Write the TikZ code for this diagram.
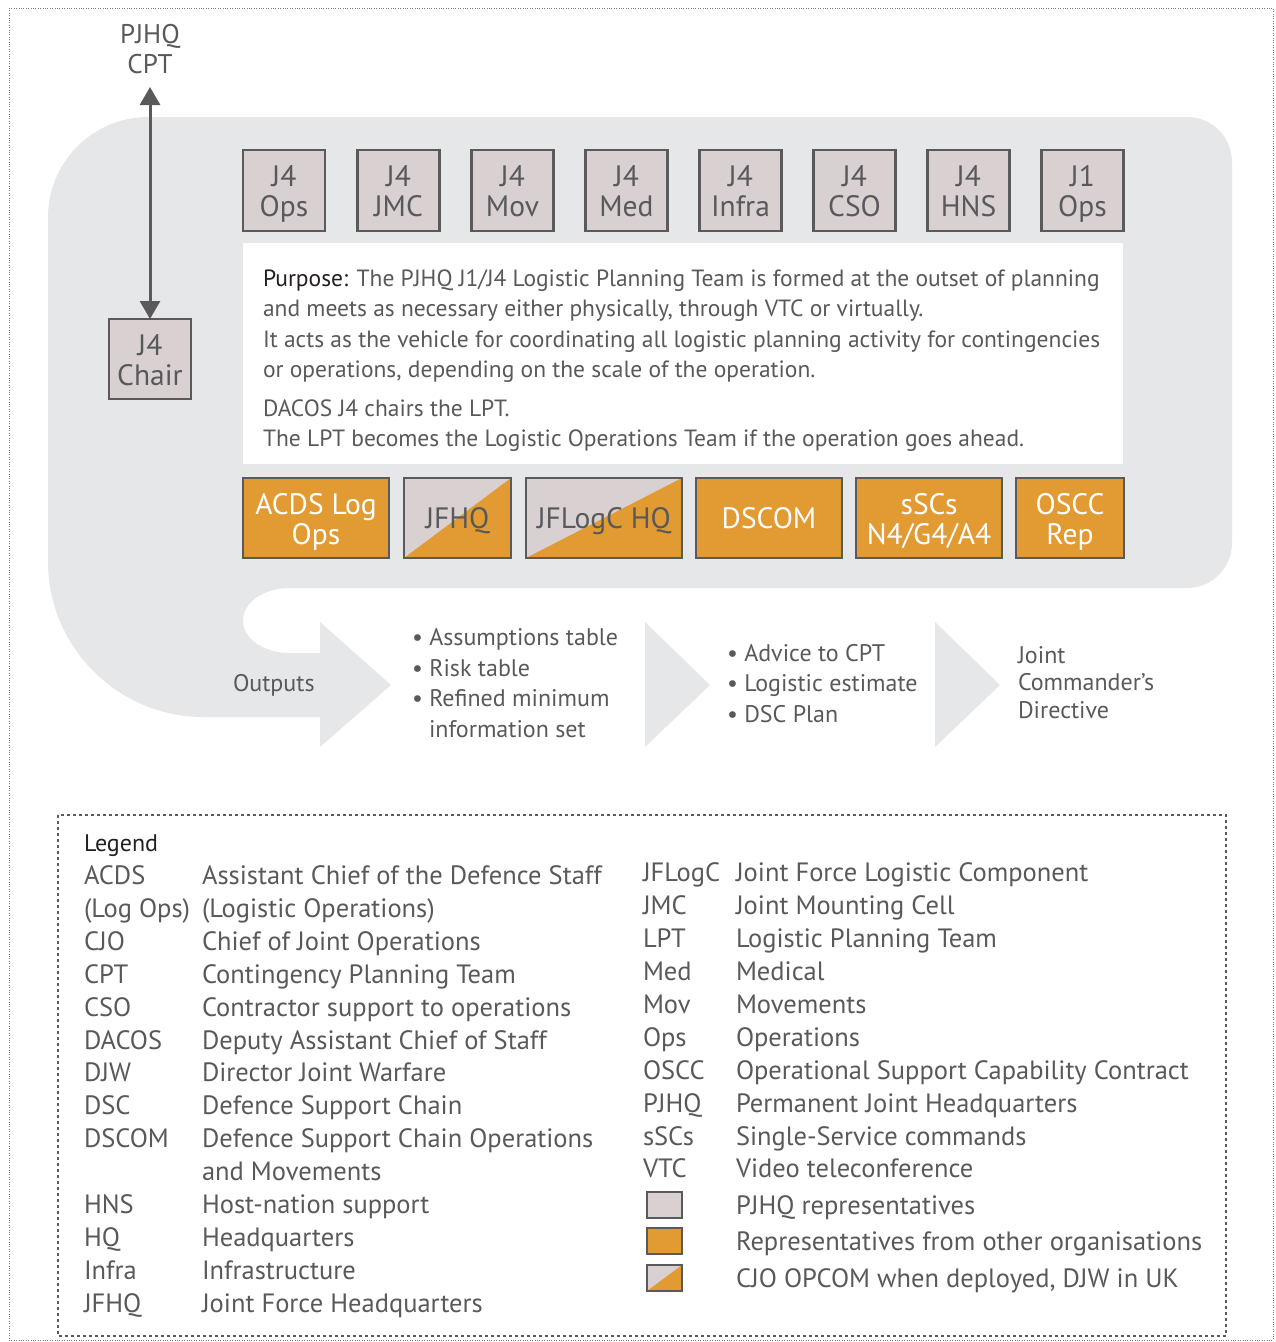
\documentclass[tikz,border=0pt]{standalone}
\usepackage{fontspec}
\setmainfont{PT Sans}
\usetikzlibrary{arrows.meta}
\definecolor{txt}{HTML}{58595B}
\definecolor{bg}{HTML}{E6E7E8}
\definecolor{pk}{HTML}{D9D0D1}
\definecolor{org}{HTML}{E29A32}
\definecolor{edge}{HTML}{5A5A5C}
\definecolor{blk}{HTML}{231F20}
\begin{document}
\begin{tikzpicture}[x=1pt,y=-1pt,
 every node/.style={inner sep=0pt, outer sep=0pt},
 pbox/.style={draw=edge, line width=2.5pt, fill=pk, minimum width=82pt, minimum height=81pt, align=center, text=txt, font=\fontsize{29.5}{30}\selectfont, text height=52pt, text depth=0pt},
 one/.style={text height=21pt, text depth=0pt},
 obox/.style={pbox, fill=org, text=white},
 sbox/.style={pbox, path picture={\fill[org] (path picture bounding box.south west) -- (path picture bounding box.south east) -- (path picture bounding box.north east) -- cycle;}},
 lbl/.style={anchor=base west, text=txt, font=\fontsize{24}{27}\selectfont},
 ptx/.style={anchor=base west, text=txt, font=\fontsize{23.5}{27}\selectfont},
 leg/.style={anchor=base west, text=txt, font=\fontsize{26.5}{28}\selectfont},
 swatch/.style={draw=edge, line width=2pt, fill=pk, minimum width=35pt, minimum height=26pt},
 dbl/.style={{Triangle[width=20pt,length=18pt]}-{Triangle[width=20pt,length=18pt]}, line width=3pt, draw=edge},
]
\useasboundingbox (0,0) rectangle (1276,1342);
% outer dotted frame
\draw[txt!80, line width=0.8pt, dash pattern=on 0.8pt off 1.6pt] (9,8) rectangle (1273,1340);

% grey background shape with outputs arrow
\fill[bg] (48,217) .. controls (48,162) and (93,117) .. (148,117)
  -- (1187,117) .. controls (1212,117) and (1232,137) .. (1232,162)
  -- (1232,543) .. controls (1232,568) and (1212,588) .. (1187,588)
  -- (290,588) .. controls (264,588) and (243,602) .. (243,620.5)
  .. controls (243,639) and (264,653) .. (290,653)
  -- (320,653) -- (320,622) -- (391,685) -- (320,747) -- (320,717)
  -- (203,717) .. controls (118,717) and (48,647) .. (48,562) -- cycle;

% chevrons
\fill[bg] (645,622) -- (710,685) -- (645,747) -- cycle;
\fill[bg] (935,622) -- (1000,685) -- (935,747) -- cycle;

% top text and arrow
\node[text=txt, font=\fontsize{27}{30}\selectfont, align=center, anchor=base] (cpt) at (150,73) {PJHQ\\CPT};
\coordinate (cpttop) at (150,87);
\node[pbox, minimum height=80pt] (chair) at (150,359) {J4\\Chair};
\draw[dbl] (chair.north) -- (cpttop);

% J boxes
\node[pbox] (b1) at (284,190.5) {J4\\Ops};
\node[pbox] (b2) at (398.5,190.5) {J4\\JMC};
\node[pbox] (b3) at (512.5,190.5) {J4\\Mov};
\node[pbox] (b4) at (626.5,190.5) {J4\\Med};
\node[pbox] (b5) at (740.5,190.5) {J4\\Infra};
\node[pbox] (b6) at (854.5,190.5) {J4\\CSO};
\node[pbox] (b7) at (968.5,190.5) {J4\\HNS};
\node[pbox] (b8) at (1082.5,190.5) {J1\\Ops};

% purpose box
\node[fill=white, minimum width=880pt, minimum height=221pt, anchor=north west] (purpose) at (243,243) {};
\node[ptx] (p1) at (263,286) {\textcolor{blk}{Purpose:} The PJHQ J1/J4 Logistic Planning Team is formed at the outset of planning};
\node[ptx] (p2) at (263,316) {and meets as necessary either physically, through VTC or virtually.};
\node[ptx] (p3) at (263,347) {It acts as the vehicle for coordinating all logistic planning activity for contingencies};
\node[ptx] (p4) at (263,377) {or operations, depending on the scale of the operation.};
\node[ptx] (p5) at (263,416) {DACOS J4 chairs the LPT.};
\node[ptx] (p6) at (263,446) {The LPT becomes the Logistic Operations Team if the operation goes ahead.};

% other organisations
\node[obox, minimum width=146pt, minimum height=80pt] (o1) at (316,518) {ACDS Log\\Ops};
\node[sbox, one, minimum width=107pt, minimum height=80pt] (o2) at (457.5,518) {JFHQ};
\node[sbox, one, minimum width=156pt, minimum height=80pt] (o3) at (604,518) {JFLogC HQ};
\node[obox, one, minimum width=146pt, minimum height=80pt] (o4) at (769,518) {DSCOM};
\node[obox, minimum width=146pt, minimum height=80pt] (o5) at (929,518) {sSCs\\N4/G4/A4};
\node[obox, minimum width=108pt, minimum height=80pt] (o6) at (1070,518) {OSCC\\Rep};

% outputs
\node[lbl] (outp) at (233,691) {Outputs};
\node[lbl] (a1) at (412,645) {\textbullet\ Assumptions table};
\node[lbl] (a2) at (412,676) {\textbullet\ Risk table};
\node[lbl] (a3) at (412,706) {\textbullet\ Refined minimum};
\node[lbl] (a4) at (429,737) {information set};
\node[lbl] (c1) at (727,661) {\textbullet\ Advice to CPT};
\node[lbl] (c2) at (727,691) {\textbullet\ Logistic estimate};
\node[lbl] (c3) at (727,722) {\textbullet\ DSC Plan};
\node[lbl] (d1) at (1018,663) {Joint};
\node[lbl] (d2) at (1018,690) {Commander’s};
\node[lbl] (d3) at (1018,718) {Directive};

% legend
\draw[edge, line width=1.3pt, dash pattern=on 3pt off 3pt] (58,815) rectangle (1226,1336);
\node[lbl, text=blk] (legt) at (84,851) {Legend};
\foreach \ab/\de/\yy [count=\i] in {
  ACDS/Assistant Chief of the Defence Staff/884,
  (Log Ops)/(Logistic Operations)/917,
  CJO/Chief of Joint Operations/950,
  CPT/Contingency Planning Team/983,
  CSO/Contractor support to operations/1016,
  DACOS/Deputy Assistant Chief of Staff/1049,
  DJW/Director Joint Warfare/1081,
  DSC/Defence Support Chain/1114,
  DSCOM/Defence Support Chain Operations/1147,
  {}/and Movements/1180,
  HNS/Host-nation support/1213,
  HQ/Headquarters/1246,
  Infra/Infrastructure/1279,
  JFHQ/Joint Force Headquarters/1312} {
  \node[leg] (la\i) at (84,\yy) {\ab};
  \node[leg] (ld\i) at (202,\yy) {\de};
}
\foreach \ab/\de/\yy [count=\i] in {
  JFLogC/Joint Force Logistic Component/881,
  JMC/Joint Mounting Cell/914,
  LPT/Logistic Planning Team/947,
  Med/Medical/980,
  Mov/Movements/1013,
  Ops/Operations/1046,
  OSCC/Operational Support Capability Contract/1079,
  PJHQ/Permanent Joint Headquarters/1112,
  sSCs/Single-Service commands/1145,
  VTC/Video teleconference/1177} {
  \node[leg] (ra\i) at (643,\yy) {\ab};
  \node[leg] (rd\i) at (736,\yy) {\de};
}
\node[swatch] (sw1) at (664.5,1205) {};
\node[swatch, fill=org] (sw2) at (664.5,1241) {};
\node[swatch, path picture={\fill[org] (path picture bounding box.south west) -- (path picture bounding box.south east) -- (path picture bounding box.north east) -- cycle;}] (sw3) at (664.5,1278) {};
\node[leg] (s1) at (736,1214) {PJHQ representatives};
\node[leg] (s2) at (736,1250) {Representatives from other organisations};
\node[leg] (s3) at (736,1287) {CJO OPCOM when deployed, DJW in UK};
\end{tikzpicture}
\end{document}
